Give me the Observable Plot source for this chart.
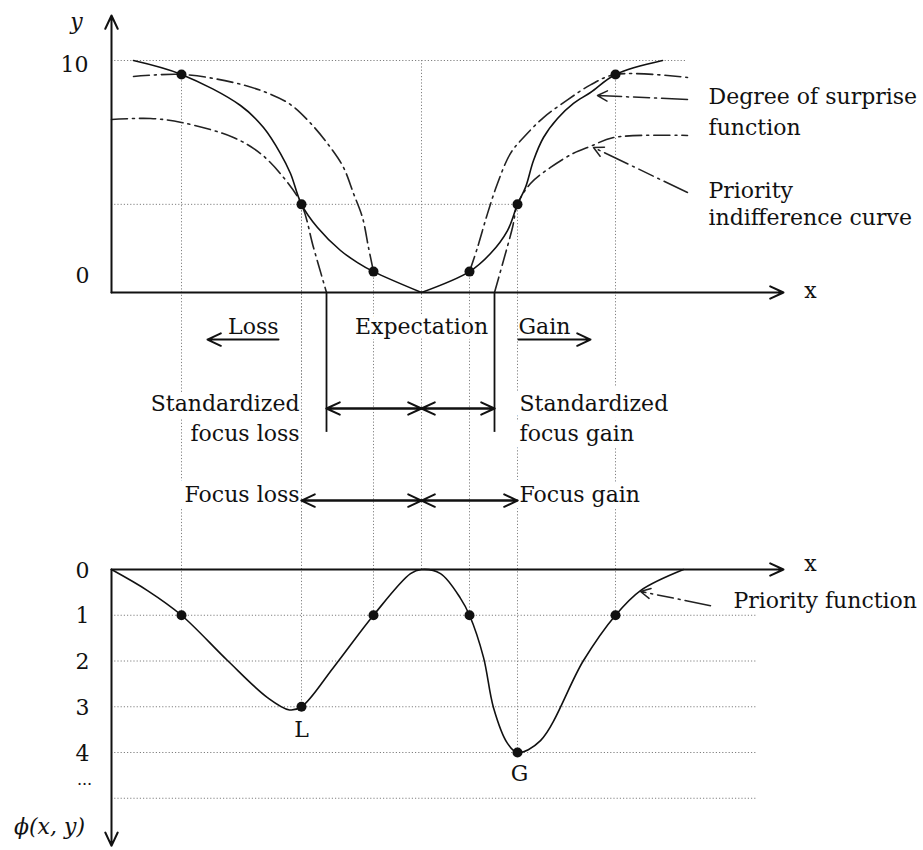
<!DOCTYPE html>
<html>
<head>
<meta charset="utf-8">
<script src="https://cdn.jsdelivr.net/npm/d3@7"></script>
<script src="https://cdn.jsdelivr.net/npm/@observablehq/plot@0.6"></script>
<style>
  body { margin: 0; background: #fff; }
  #chart svg { display: block; }
</style>
</head>
<body>
<div id="chart"></div>
<script>
// ---------------- data ----------------
// outcome positions (x) of the key points; 0 = expectation
const keyX          = [-12, -6, -2.4, 0, 2.4, 4.8, 9.7];
// degree of surprise y at the key points (top panel)
const surpriseAtKey = [9.4, 3.8, 0.9, 0, 0.9, 3.8, 9.4];
// priority phi(x, y) at the key points (bottom panel)
const priorityAtKey = [1, 3, 1, 0, 1, 4, 1];
const keyHasDot     = [true, true, true, false, true, true, true];

// standardized focus loss / gain (where the inner indifference curves meet y = 0)
const standardizedLoss = -4.75;
const standardizedGain = 3.65;

// degree of surprise function (solid), loss branch and gain branch
const surpriseLossX = [-14.4, -12, -9.05, -7.9, -7.05, -6.55, -6, -5.2, -4.05, -3.2, -2.4, 0];
const surpriseLossY = [10, 9.4, 8.06, 7.11, 5.99, 5.13, 3.8, 2.8, 1.81, 1.29, 0.9, 0];
const surpriseGainX = [0, 2.4, 3.45, 4.3, 4.8, 5.2, 5.6, 6.1, 6.8, 7.6, 8.45, 9.7, 12.05];
const surpriseGainY = [0, 0.9, 1.68, 2.67, 3.8, 4.53, 5.69, 6.68, 7.5, 8.15, 8.62, 9.4, 10];

// priority indifference curves (dash-dot)
const outerLossX = [-14.4, -12, -9.4, -7.7, -6.55, -5.55, -4.55, -3.9, -3.4, -2.95, -2.65, -2.4];
const outerLossY = [9.31, 9.4, 9.05, 8.6, 8.1, 7.3, 6.25, 5.39, 4.27, 3.23, 1.94, 0.9];
const innerLossX = [-15.5, -13.55, -12, -9.4, -8.05, -6.9, -6, -5.4, -4.75];
const innerLossY = [7.46, 7.5, 7.33, 6.68, 5.99, 4.96, 3.8, 1.94, 0];
const outerGainX = [2.4, 2.8, 3.3, 3.8, 4.45, 5.1, 6.1, 7.3, 8.45, 9.7, 13.3];
const outerGainY = [0.9, 1.94, 3.4, 4.7, 6.0, 6.68, 7.54, 8.3, 8.95, 9.4, 9.27];
const innerGainX = [3.65, 4.1, 4.55, 4.8, 5.45, 6.45, 7.6, 8.45, 9.6, 13.3];
const innerGainY = [0, 1.38, 2.8, 3.8, 4.7, 5.39, 6.0, 6.3, 6.68, 6.77];

// priority function phi(x, y) (bottom panel)
const priorityX = [-15.5, -13.7, -12, -9.7, -7.7, -6.6, -6, -4.4, -2.4, -0.55, 0, 0.95, 1.95, 2.4, 3.1, 3.6, 4.3, 4.8, 5.95, 8.1, 9.7, 10.95, 13.1];
const priorityY = [0, 0.46, 1, 1.99, 2.8, 3.07, 3, 2.14, 1, 0.09, 0, 0.09, 0.63, 1, 1.92, 3.02, 3.8, 4, 3.74, 1.99, 1, 0.46, 0];

// axes / ticks
const xAxisMin = -15.5, xAxisMax = 18.1;
const upperTicks = [10, 0];
const upperGridY = [10, 3.8];
const upperGridEnd = [13.3, 4.8];
const lowerTicks = [0, 1, 2, 3, 4];
const lowerGridY = [1, 2, 3, 4, 5];
const lowerGridEnd = 16.8;

// texts
const degreeLabel   = "Degree of surprise\nfunction";
const priorityLabel = "Priority\nindifference curve";
const priorityFnLabel = "Priority function";
const stdLossLabel  = "Standardized\nfocus loss";
const stdGainLabel  = "Standardized\nfocus gain";

// ---------------- helpers ----------------
const pts = (xs, ys, series) => xs.map((x, i) => ({x, y: ys[i], series}));
const keys = keyX.map((x, i) => ({x, s: surpriseAtKey[i], p: priorityAtKey[i], dot: keyHasDot[i],
  top: x === 0 ? upperGridY[0] : surpriseAtKey[i]}));
const font = "DejaVu Serif";
const ink = "#111";
const curve = "catmull-rom";
const gridStyle = {stroke: "#808080", strokeWidth: 1, strokeDasharray: "1.2,2"};
const dashDot = {stroke: "#222", strokeWidth: 1.6, strokeDasharray: "16,5,2,5"};
const leaderDash = {stroke: "#222", strokeWidth: 1.5, strokeDasharray: "26,5,2,5,16,5,2,5", headLength: 11, headAngle: 55};
const halo = {stroke: "white", strokeWidth: 14, paintOrder: "stroke", fill: ink};
const xScale = {domain: [xAxisMin, xAxisMax], range: [111, 783], axis: null};
const baseStyle = {fontFamily: font, fontSize: "22px", color: ink, background: "white"};
const axisArrow = {stroke: ink, strokeWidth: 2, headLength: 11, headAngle: 50};

// rows of the annotation band (in upper-panel y units)
const rowDir = -1.77, rowDirArrow = -2.03;
const rowStd = -6.38, rowStdArrow = -5.0, rowStdBar = -6.03;
const rowFocus = -9.05, rowFocusArrow = -8.97;
const upperBottom = -10.5;
const focusLoss = keyX[1], focusGain = keyX[5];

const both = (a, b, y) => [{x1: a, x2: b, y}, {x1: b, x2: a, y}];

// ---------------- upper panel ----------------
const upper = Plot.plot({
  width: 923, height: 530, margin: 0,
  x: xScale,
  y: {domain: [0, 10], range: [292, 60], axis: null},
  style: baseStyle,
  marks: [
    // dotted grid
    Plot.ruleY(upperGridY.map((y, i) => ({y, end: upperGridEnd[i]})), {y: "y", x1: xAxisMin, x2: "end", ...gridStyle}),
    Plot.ruleX(keys, {x: "x", y1: "top", y2: upperBottom, ...gridStyle}),
    // annotation texts with white boxes
    Plot.text([stdLossLabel], {x: focusLoss, y: rowStd, text: d => d, textAnchor: "end", lineAnchor: "bottom", lineHeight: 1.36, dx: -2, ...halo}),
    Plot.text([stdGainLabel], {x: focusGain, y: rowStd, text: d => d, textAnchor: "start", lineAnchor: "bottom", lineHeight: 1.36, dx: 2, ...halo}),
    Plot.text(["Focus loss"], {x: focusLoss, y: rowFocus, text: d => d, textAnchor: "end", lineAnchor: "bottom", dx: -2, ...halo}),
    Plot.text(["Focus gain"], {x: focusGain, y: rowFocus, text: d => d, textAnchor: "start", lineAnchor: "bottom", dx: 2, ...halo}),
    Plot.text(["Expectation"], {x: 0, y: rowDir, text: d => d, textAnchor: "middle", lineAnchor: "bottom", ...halo, strokeWidth: 10}),
    Plot.ruleX(keys.filter(d => d.x === focusLoss), {x: "x", y1: "top", y2: upperBottom, ...gridStyle}),
    Plot.text(["Loss"], {x: -7.15, y: rowDir, text: d => d, textAnchor: "end", lineAnchor: "bottom", fill: ink}),
    Plot.text(["Gain"], {x: 4.85, y: rowDir, text: d => d, textAnchor: "start", lineAnchor: "bottom", fill: ink}),
    Plot.arrow([{x1: -7.15, x2: -10.7, y: rowDirArrow}, {x1: 4.85, x2: 8.45, y: rowDirArrow}],
      {x1: "x1", x2: "x2", y1: "y", y2: "y", ...axisArrow}),
    // standardized focus bars and arrows
    Plot.ruleX([standardizedLoss, standardizedGain], {x: d => d, y1: 0, y2: rowStdBar, stroke: ink, strokeWidth: 1.8}),
    Plot.arrow([...both(standardizedLoss, 0, rowStdArrow), ...both(0, standardizedGain, rowStdArrow)],
      {x1: "x1", x2: "x2", y1: "y", y2: "y", ...axisArrow}),
    Plot.arrow([...both(focusLoss, 0, rowFocusArrow), ...both(0, focusGain, rowFocusArrow)],
      {x1: "x1", x2: "x2", y1: "y", y2: "y", ...axisArrow}),
    // indifference curves
    Plot.line([...pts(outerLossX, outerLossY, "a"), ...pts(innerLossX, innerLossY, "b"),
               ...pts(outerGainX, outerGainY, "c"), ...pts(innerGainX, innerGainY, "d")],
      {x: "x", y: "y", z: "series", curve, ...dashDot}),
    // degree of surprise function
    Plot.line([...pts(surpriseLossX, surpriseLossY, "loss"), ...pts(surpriseGainX, surpriseGainY, "gain")],
      {x: "x", y: "y", z: "series", curve, stroke: ink, strokeWidth: 1.6}),
    // leaders
    Plot.arrow([{x1: 13.3, y1: 8.32, x2: 8.8, y2: 8.49}, {x1: 13.3, y1: 4.31, x2: 8.6, y2: 6.25}],
      {x1: "x1", y1: "y1", x2: "x2", y2: "y2", ...leaderDash}),
    Plot.text([degreeLabel], {x: 14.35, y: 6.77, text: d => d, textAnchor: "start", lineAnchor: "bottom", lineHeight: 1.45, fill: ink}),
    Plot.text([priorityLabel], {x: 14.35, y: 2.89, text: d => d, textAnchor: "start", lineAnchor: "bottom", lineHeight: 1.27, fill: ink}),
    // points
    Plot.dot(keys.filter(d => d.dot), {x: "x", y: "s", r: 5, fill: ink, stroke: "none"}),
    // axes
    Plot.arrow([{x1: xAxisMin, y1: 0, x2: xAxisMax, y2: 0}, {x1: xAxisMin, y1: 0, x2: xAxisMin, y2: 11.94}],
      {x1: "x1", y1: "y1", x2: "x2", y2: "y2", ...axisArrow}),
    Plot.text(upperTicks.filter(d => d === 10), {x: xAxisMin, y: d => d, text: d => String(d), textAnchor: "end", dx: -23, dy: 4, fill: ink}),
    Plot.text(upperTicks.filter(d => d === 0), {x: xAxisMin, y: d => d, text: d => String(d), textAnchor: "end", dx: -22, dy: -17, fill: ink}),
    Plot.text(["y"], {x: xAxisMin, y: 11.64, text: d => d, dx: -35, fontStyle: "italic", fill: ink}),
    Plot.text(["x"], {x: xAxisMax, y: 0, text: d => d, dx: 27, dy: -2, fill: ink})
  ]
});

// ---------------- lower panel ----------------
const lower = Plot.plot({
  width: 923, height: 320, margin: 0,
  x: xScale,
  y: {domain: [0, 1], range: [39, 84.75], axis: null},
  style: baseStyle,
  marks: [
    Plot.ruleY(lowerGridY, {y: d => d, x1: xAxisMin, x2: lowerGridEnd, ...gridStyle}),
    Plot.ruleX(keys, {x: "x", y1: -1, y2: "p", ...gridStyle}),
    Plot.line(pts(priorityX, priorityY, "phi"), {x: "x", y: "y", curve, stroke: ink, strokeWidth: 1.6}),
    Plot.dot(keys.filter(d => d.dot), {x: "x", y: "p", r: 5, fill: ink, stroke: "none"}),
    Plot.text(keys.filter(d => d.x === focusLoss), {x: "x", y: d => d.p + 0.5, text: () => "L", fill: ink}),
    Plot.text(keys.filter(d => d.x === focusGain), {x: "x", y: d => d.p + 0.46, text: () => "G", dx: 2, fill: ink}),
    Plot.text([priorityFnLabel], {x: 15.6, y: 0.68, text: d => d, textAnchor: "start", ...halo, strokeWidth: 6}),
    Plot.arrow([{x1: 14.45, y1: 0.79, x2: 10.95, y2: 0.48}], {x1: "x1", y1: "y1", x2: "x2", y2: "y2", ...leaderDash}),
    Plot.arrow([{x1: xAxisMin, y1: 0, x2: xAxisMax, y2: 0}, {x1: xAxisMin, y1: 0, x2: xAxisMin, y2: 6.04}],
      {x1: "x1", y1: "y1", x2: "x2", y2: "y2", ...axisArrow}),
    Plot.text(lowerTicks, {x: xAxisMin, y: d => d, text: d => String(d), textAnchor: "end", dx: -22, dy: 1, fill: ink}),
    Plot.text(["..."], {x: xAxisMin, y: 4.72, text: d => d, dx: -27, lineAnchor: "bottom", fontSize: 16, fill: ink}),
    Plot.text(["\u03d5(x, y)"], {x: xAxisMin, y: 5.62, text: d => d, dx: -62, fontStyle: "italic", fill: ink}),
    Plot.text(["x"], {x: xAxisMax, y: 0, text: d => d, dx: 27, dy: -6, fill: ink})
  ]
});

const root = document.getElementById("chart");
root.appendChild(upper);
root.appendChild(lower);
</script>
</body>
</html>
